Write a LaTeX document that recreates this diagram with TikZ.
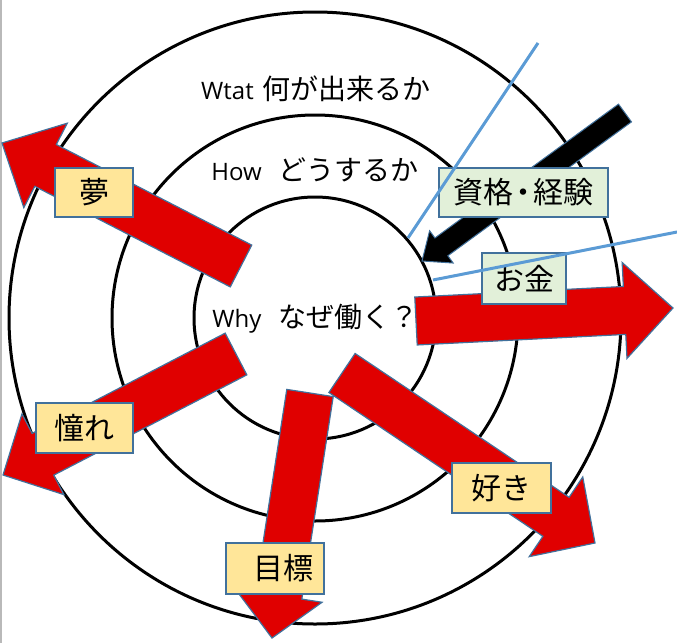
\documentclass[tikz,border=0pt]{standalone}
\usepackage{fontspec}
\setmainfont{Open Sans}
\newfontfamily\jp{Noto Sans CJK JP}
\usetikzlibrary{calc}
\definecolor{arrred}{RGB}{224,0,0}
\definecolor{edgeblue}{RGB}{65,113,156}
\definecolor{lineblue}{RGB}{91,155,213}
\definecolor{lblyellow}{RGB}{255,230,153}
\definecolor{lblgreen}{RGB}{226,240,217}
% #1 style, #2 tail, #3 tip, #4 half shaft width, #5 half head width, #6 head length
\newcommand\blockarrow[6]{%
  \coordinate (tmpb) at ($(#3)!#6pt!(#2)$);
  \draw[#1] ($(#2)!#4pt!90:(#3)$) -- ($(tmpb)!#4pt!90:(#3)$) -- ($(tmpb)!#5pt!90:(#3)$) -- (#3)
    -- ($(tmpb)!#5pt!-90:(#3)$) -- ($(tmpb)!#4pt!-90:(#3)$) -- ($(#2)!#4pt!-90:(#3)$) -- cycle;
}
\newcommand\jpbig{\fontsize{28}{32}\selectfont\jp}
\begin{document}
\begin{tikzpicture}[x=1pt,y=-1pt,
  ring/.style={draw=black,line width=3pt},
  maintext/.style={inner sep=0pt,font=\fontsize{24}{30}\selectfont},
  redarrow/.style={fill=arrred,draw=edgeblue,line width=1.2pt,line join=miter},
  blackarrow/.style={fill=black,draw=edgeblue,line width=1pt,line join=miter},
  lbl/.style={rectangle,draw=edgeblue,line width=1.5pt,inner sep=0pt,font=\fontsize{30}{34}\selectfont\jp},
  ylbl/.style={lbl,fill=lblyellow},
  glbl/.style={lbl,fill=lblgreen},
  guide/.style={draw=lineblue,line width=3pt}]
\useasboundingbox[fill=white] (0,0) rectangle (677,643);
\coordinate (bt) at (0.8,0);
\coordinate (bb) at (0.8,643);
\draw[gray!55,line width=1.6pt] (bt) -- (bb);

% rings
\coordinate (c) at (315,318);
\draw[ring] (c) circle[radius=306pt];
\draw[ring] (c) circle[radius=203pt];
\draw[ring] (c) circle[radius=121pt];

% ring texts
\node[maintext] (what) at (316,89) {Wtat\hspace{9pt}{\jpbig 何が出来るか}};
\node[maintext] (how) at (315,170) {How\hspace{17pt}{\jpbig どうするか}};
\node[maintext] (why) at (315.5,319) {Why\hspace{17pt}{\jpbig なぜ働く？}};

% red arrows
\coordinate (yumeT) at (241,266);  \coordinate (yumeP) at (2,143);
\coordinate (akoT) at (236,354);   \coordinate (akoP) at (3,475);
\coordinate (mokT) at (310,393);   \coordinate (mokP) at (272,638);
\coordinate (sukiT) at (342,373);  \coordinate (sukiP) at (595,543);
\coordinate (kaneT) at (416,321);  \coordinate (kaneP) at (673,308);
\blockarrow{redarrow}{yumeT}{yumeP}{23.5}{47.5}{49}
\blockarrow{redarrow}{akoT}{akoP}{23.5}{45.5}{45}
\blockarrow{redarrow}{mokT}{mokP}{23.5}{44}{43}
\blockarrow{redarrow}{sukiT}{sukiP}{23.5}{48}{47}
\blockarrow{redarrow}{kaneT}{kaneP}{24}{48}{48.5}

% black arrow
\coordinate (skT) at (625,113); \coordinate (skP) at (422,261);
\blockarrow{blackarrow}{skT}{skP}{11}{20}{24}

% labels
\node[ylbl,minimum width=78pt,minimum height=49pt] (yume) at (94,192.5) {夢};
\node[ylbl,minimum width=97pt,minimum height=50pt] (ako) at (84.5,428) {憧れ};
\node[ylbl,minimum width=98pt,minimum height=51pt] (mok) at (275,568.5) {\hspace{16pt}目標};
\node[ylbl,minimum width=99pt,minimum height=50pt] (suki) at (501.5,488) {好き};
\node[glbl,minimum width=169pt,minimum height=49pt] (shikaku) at (523.5,192.5) {資格\kern-5pt・\kern-5pt経験\hspace{10pt}};
\node[glbl,minimum width=84pt,minimum height=51pt] (kane) at (524,278.5) {お金};

% blue guide lines
\coordinate (l1a) at (538,43);  \coordinate (l1b) at (408,238);
\coordinate (l2a) at (677,232); \coordinate (l2b) at (433,280);
\draw[guide] (l1a) -- (l1b);
\draw[guide] (l2a) -- (l2b);
\end{tikzpicture}
\end{document}
